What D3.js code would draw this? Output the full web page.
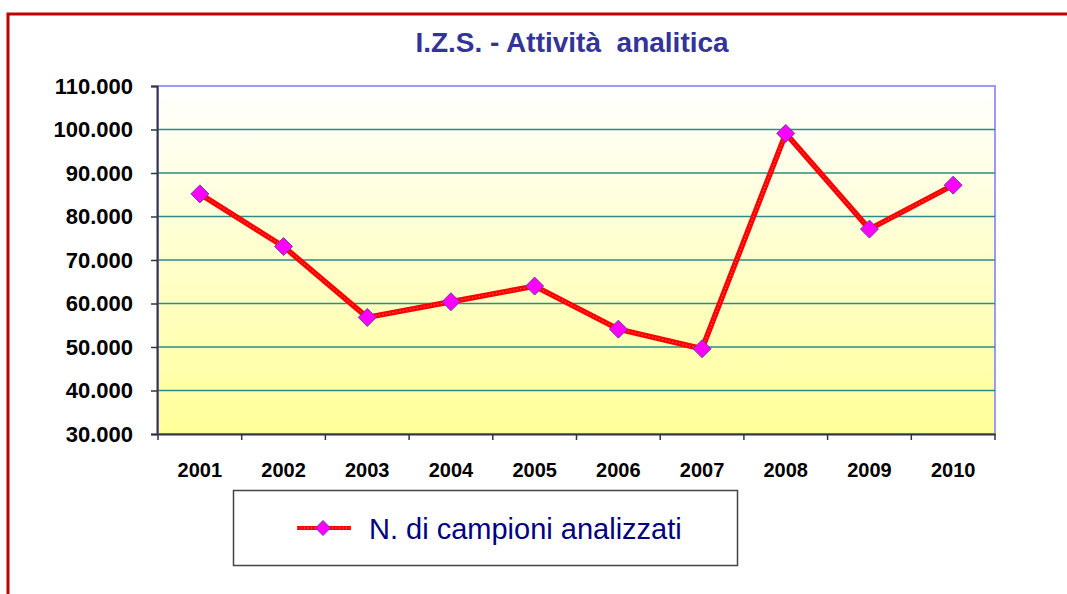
<!DOCTYPE html>
<html>
<head>
<meta charset="utf-8">
<script src="https://cdn.jsdelivr.net/npm/d3@7"></script>
<style>
  body { margin: 0; background: #fff; }
  svg { display: block; }
</style>
</head>
<body>
<div id="chart"></div>
<script>
// data
var years = ['2001', '2002', '2003', '2004', '2005', '2006', '2007', '2008', '2009', '2010'];
var campioni = [85200, 73100, 56800, 60400, 64000, 54100, 49600, 99100, 77100, 87200];
var yTicks = [30000, 40000, 50000, 60000, 70000, 80000, 90000, 100000, 110000];
var titleText = 'I.Z.S. - Attività  analitica';
var legendText = 'N. di campioni analizzati';

var W = 1067, H = 594;
var plot = { left: 158, top: 86, right: 995, bottom: 434 };

var svg = d3.select('#chart').append('svg')
  .attr('width', W)
  .attr('height', H);

// background gradient of the plot area
var defs = svg.append('defs');
var grad = defs.append('linearGradient')
  .attr('id', 'bg').attr('x1', 0).attr('y1', 0).attr('x2', 0).attr('y2', 1);
grad.append('stop').attr('offset', '0%').attr('stop-color', '#ffffff');
grad.append('stop').attr('offset', '100%').attr('stop-color', '#ffff99');

// red frame round the slide, open to the right and bottom
svg.append('path')
  .attr('d', 'M8,' + (H + 5) + ' L8,14 L' + (W + 5) + ',14')
  .attr('fill', 'none')
  .attr('stroke', '#c00000')
  .attr('stroke-width', 3);

var x = d3.scaleBand()
  .domain(years)
  .range([plot.left, plot.right]);

var y = d3.scaleLinear()
  .domain([30000, 110000])
  .range([plot.bottom, plot.top]);

svg.append('rect')
  .attr('x', plot.left).attr('y', plot.top)
  .attr('width', plot.right - plot.left)
  .attr('height', plot.bottom - plot.top)
  .attr('fill', 'url(#bg)')
  .attr('stroke', '#9999ff')
  .attr('stroke-width', 2);

// gridlines
svg.append('g').selectAll('line')
  .data(yTicks.slice(1, -1))
  .enter().append('line')
  .attr('x1', plot.left).attr('x2', plot.right)
  .attr('y1', function (d) { return y(d); })
  .attr('y2', function (d) { return y(d); })
  .attr('stroke', '#2b8c86')
  .attr('stroke-width', 1.5);

var fmt = function (d) { return d3.format(',')(d).replace(/,/g, '.'); };

// y axis
var yAxis = svg.append('g')
  .attr('transform', 'translate(' + (plot.left - 1) + ',0)')
  .call(d3.axisLeft(y).tickValues(yTicks).tickFormat(fmt).tickSize(6).tickPadding(18));
yAxis.select('.domain').attr('stroke', '#333344').attr('stroke-width', 2);
yAxis.selectAll('.tick line').attr('stroke', '#333344').attr('stroke-width', 1.5);
yAxis.selectAll('text')
  .attr('fill', '#000')
  .style('font', 'bold 22px "Liberation Sans", Arial, sans-serif');

// x axis, ticks between categories
var xAxis = svg.append('g')
  .attr('transform', 'translate(0,' + plot.bottom + ')')
  .call(d3.axisBottom(x).tickSize(0).tickPadding(29));
xAxis.select('.domain').attr('stroke', '#333344').attr('stroke-width', 2);
xAxis.selectAll('text')
  .attr('fill', '#000')
  .style('font', 'bold 20px "Liberation Sans", Arial, sans-serif');
xAxis.selectAll('line.sep')
  .data(years.concat(['end']))
  .enter().append('line')
  .attr('class', 'sep')
  .attr('x1', function (d, i) { return plot.left + i * x.step(); })
  .attr('x2', function (d, i) { return plot.left + i * x.step(); })
  .attr('y1', 0).attr('y2', 6)
  .attr('stroke', '#333344').attr('stroke-width', 1.5);

// the series line
var pts = years.map(function (yr, i) { return { year: yr, v: campioni[i] }; });
var line = d3.line()
  .x(function (d) { return x(d.year) + x.bandwidth() / 2; })
  .y(function (d) { return y(d.v); });

svg.append('path').datum(pts)
  .attr('d', line)
  .attr('fill', 'none')
  .attr('stroke', '#ff0000')
  .attr('stroke-width', 5.5)
  .attr('stroke-linejoin', 'round');
svg.append('path').datum(pts)
  .attr('d', line)
  .attr('fill', 'none')
  .attr('stroke', '#ffffff')
  .attr('stroke-opacity', 0.55)
  .attr('stroke-width', 1)
  .attr('stroke-dasharray', '1,2.5');

var diamond = function (r) { return 'M0,' + (-r) + 'L' + r + ',0L0,' + r + 'L' + (-r) + ',0Z'; };

svg.append('g').selectAll('path')
  .data(pts)
  .enter().append('path')
  .attr('transform', function (d) { return 'translate(' + (x(d.year) + x.bandwidth() / 2) + ',' + y(d.v) + ')'; })
  .attr('d', diamond(9))
  .attr('fill', '#ff00ff')
  .attr('stroke', '#6a3fa0')
  .attr('stroke-width', 1);

// title
svg.append('text')
  .attr('x', 572).attr('y', 52)
  .attr('text-anchor', 'middle')
  .attr('fill', '#333399')
  .style('white-space', 'pre')
  .style('font', 'bold 28px "Liberation Sans Narrow", "Arial Narrow", sans-serif')
  .text(titleText);

// legend
var lg = svg.append('g');
lg.append('rect')
  .attr('x', 233.5).attr('y', 490.5)
  .attr('width', 504).attr('height', 75)
  .attr('fill', '#fff')
  .attr('stroke', '#444')
  .attr('stroke-width', 1.5);
lg.append('line')
  .attr('x1', 297).attr('x2', 351).attr('y1', 528).attr('y2', 528)
  .attr('stroke', '#ff0000').attr('stroke-width', 4);
lg.append('line')
  .attr('x1', 297).attr('x2', 351).attr('y1', 528).attr('y2', 528)
  .attr('stroke', '#fff').attr('stroke-opacity', 0.55).attr('stroke-width', 1)
  .attr('stroke-dasharray', '1,2.5');
lg.append('path')
  .attr('transform', 'translate(323,528)')
  .attr('d', diamond(7.5))
  .attr('fill', '#ff00ff')
  .attr('stroke', '#6a3fa0')
  .attr('stroke-width', 1);
lg.append('text')
  .attr('x', 369).attr('y', 539)
  .attr('fill', '#000080')
  .style('font', '29px "Liberation Sans", Arial, sans-serif')
  .text(legendText);
</script>
</body>
</html>
